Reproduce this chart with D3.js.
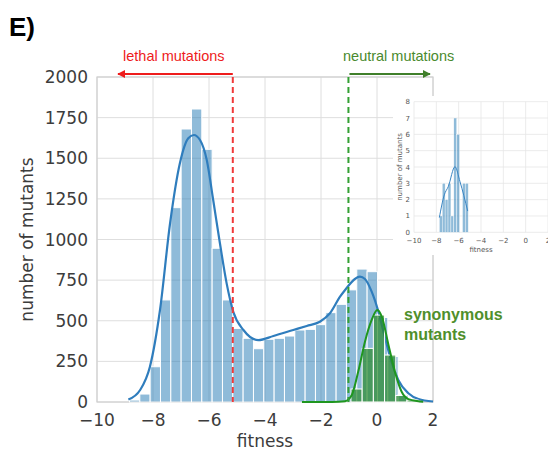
<!DOCTYPE html>
<html>
<head>
<meta charset="utf-8">
<script src="https://cdn.jsdelivr.net/npm/d3@7"></script>
<style>
  html, body { margin: 0; padding: 0; background: #fff; }
  svg { display: block; }
</style>
</head>
<body>
<svg id="chart" width="548" height="450"></svg>
<script>
// ---- data -------------------------------------------------------------
// all mutants: histogram of fitness (equal-width bins)
const blueBinStart = -8.84;
const blueBinWidth = 0.369;
const blueCounts = [12, 49, 217, 628, 1196, 1680, 1803, 1555, 946, 628,
                    453, 392, 328, 386, 392, 406, 443, 447, 476, 550,
                    601, 690, 818, 802, 520, 280, 45, 15];
// density estimate of all mutants (scaled to counts)
const blueKdeX = [-8.88, -8.46, -8.11, -7.75, -7.39, -7.04, -6.74, -6.54, -6.32, -6.08,
                  -5.85, -5.61, -5.37, -5.13, -4.77, -4.24, -3.70, -2.99, -2.51, -2.04,
                  -1.68, -1.32, -1.14, -0.79, -0.61, -0.43, -0.19, 0.05, 0.29, 0.52,
                  0.76, 1.12, 1.48, 2.0];
const blueKdeY = [15, 74, 217, 566, 1100, 1469, 1623, 1643, 1612, 1489,
                  1243, 977, 730, 554, 443, 381, 406, 443, 468, 494,
                  546, 648, 689, 757, 771, 757, 679, 556, 392, 248,
                  135, 54, 18, 3];

// synonymous mutants
const greenBinStart = -0.93;
const greenBinWidth = 0.40;
const greenCounts = [80, 330, 535, 289, 40, 12];
const greenKdeX = [-2.68, -1.6, -1.14, -0.90, -0.67, -0.43, -0.19, 0.01, 0.17, 0.41, 0.64, 0.88, 1.12, 1.48, 1.65];
const greenKdeY = [0, 0, 5, 43, 187, 371, 505, 566, 525, 351, 187, 63, 18, 5, 2];

// thresholds
const lethalCut = -5.15;
const neutralCut = -1.02;

// axis ticks
const xTicks = [-10, -8, -6, -4, -2, 0, 2];
const yTicks = [0, 250, 500, 750, 1000, 1250, 1500, 1750, 2000];

// inset: fitness histogram of a small subset
const insetBinStart = -7.73;
const insetBinWidth = 0.259;
const insetCounts = [1, 3, 2, 3, 1, 7, 6, 0, 3, 3];
const insetKdeX = [-7.73, -7.29, -6.93, -6.33, -5.88, -5.19];
const insetKdeY = [0.9, 2.29, 2.8, 4.02, 3.1, 1.3];
const insetXTicks = [-10, -8, -6, -4, -2, 0, 2];
const insetYTicks = [0, 1, 2, 3, 4, 5, 6, 7, 8];

// ---- drawing ----------------------------------------------------------
const svg = d3.select("#chart");
const font = "'DejaVu Sans', sans-serif";
const textCol = "#3c3c3c";
const gridCol = "#dedede";

const L = 97, R = 433, T = 77, B = 402;
const x = d3.scaleLinear().domain([-10, 2]).range([L, R]);
const y = d3.scaleLinear().domain([0, 2000]).range([B, T]);

// grid
const g = svg.append("g");
g.selectAll("line.gx").data(xTicks).join("line")
  .attr("x1", d => x(d)).attr("x2", d => x(d)).attr("y1", T).attr("y2", B)
  .attr("stroke", gridCol).attr("stroke-width", 1);
g.selectAll("line.gy").data(yTicks).join("line")
  .attr("y1", d => y(d)).attr("y2", d => y(d)).attr("x1", L).attr("x2", R)
  .attr("stroke", gridCol).attr("stroke-width", 1);

// frame
svg.append("rect").attr("x", L).attr("y", T).attr("width", R - L).attr("height", B - T)
  .attr("fill", "none").attr("stroke", "#d0d0d0").attr("stroke-width", 1.2);

// blue histogram
svg.append("g").selectAll("rect").data(blueCounts).join("rect")
  .attr("x", (d, i) => x(blueBinStart + i * blueBinWidth))
  .attr("width", (d, i) => x(blueBinStart + (i + 1) * blueBinWidth) - x(blueBinStart + i * blueBinWidth))
  .attr("y", d => y(d)).attr("height", d => y(0) - y(d))
  .attr("fill", "#1f77b4").attr("fill-opacity", 0.5)
  .attr("stroke", "#fff").attr("stroke-width", 1);

// blue density
const line = d3.line().x(d => x(d[0])).y(d => y(d[1])).curve(d3.curveMonotoneX);
svg.append("path").datum(blueKdeX.map((v, i) => [v, blueKdeY[i]]))
  .attr("d", line).attr("fill", "none").attr("stroke", "#2f7dbd").attr("stroke-width", 2.2);

// green histogram
svg.append("g").selectAll("rect").data(greenCounts).join("rect")
  .attr("x", (d, i) => x(greenBinStart + i * greenBinWidth))
  .attr("width", (d, i) => x(greenBinStart + (i + 1) * greenBinWidth) - x(greenBinStart + i * greenBinWidth))
  .attr("y", d => y(d)).attr("height", d => y(0) - y(d))
  .attr("fill", "#2a8a2a").attr("fill-opacity", 0.7)
  .attr("stroke", "#fff").attr("stroke-width", 1);

// green density
svg.append("path").datum(greenKdeX.map((v, i) => [v, greenKdeY[i]]))
  .attr("d", line).attr("fill", "none").attr("stroke", "#1f961f").attr("stroke-width", 2);

// threshold lines
svg.append("line").attr("x1", x(lethalCut)).attr("x2", x(lethalCut)).attr("y1", T).attr("y2", B)
  .attr("stroke", "#f03a3a").attr("stroke-width", 2).attr("stroke-dasharray", "6,4");
svg.append("line").attr("x1", x(neutralCut)).attr("x2", x(neutralCut)).attr("y1", T).attr("y2", B)
  .attr("stroke", "#33a033").attr("stroke-width", 2).attr("stroke-dasharray", "6,4");

// tick labels
svg.append("g").selectAll("text").data(xTicks).join("text")
  .attr("x", d => x(d)).attr("y", 425.5).attr("text-anchor", "middle")
  .attr("font-family", font).attr("font-size", 17).attr("fill", textCol)
  .text(d => d < 0 ? "\u2212" + Math.abs(d) : d);
svg.append("g").selectAll("text").data(yTicks).join("text")
  .attr("x", 88).attr("y", d => y(d)).attr("dy", "0.36em").attr("text-anchor", "end")
  .attr("font-family", font).attr("font-size", 17).attr("fill", textCol)
  .text(d => d);

// axis labels
svg.append("text").attr("x", (L + R) / 2).attr("y", 447).attr("text-anchor", "middle")
  .attr("font-family", font).attr("font-size", 17).attr("fill", textCol).text("fitness");
svg.append("text").attr("transform", `translate(33,${(T + B) / 2}) rotate(-90)`)
  .attr("text-anchor", "middle")
  .attr("font-family", font).attr("font-size", 17).attr("fill", textCol).text("number of mutants");

// panel letter
svg.append("text").attr("x", 9).attr("y", 36)
  .attr("font-family", "'Liberation Sans', Arial, sans-serif").attr("font-weight", "bold")
  .attr("font-size", 26).attr("fill", "#000").text("E)");

// annotations with arrows
const defs = svg.append("defs");
function marker(id, col) {
  defs.append("marker").attr("id", id).attr("viewBox", "0 0 10 10")
    .attr("refX", 9).attr("refY", 5).attr("markerWidth", 4).attr("markerHeight", 4)
    .attr("orient", "auto-start-reverse")
    .append("path").attr("d", "M0,0 L10,5 L0,10 z").attr("fill", col);
}
marker("arrRed", "#ee1c1c");
marker("arrGreen", "#3f7f2a");

svg.append("line").attr("x1", x(lethalCut)).attr("x2", 118).attr("y1", 74).attr("y2", 74)
  .attr("stroke", "#ee1c1c").attr("stroke-width", 2).attr("marker-end", "url(#arrRed)");
svg.append("line").attr("x1", x(neutralCut) + 1).attr("x2", 430).attr("y1", 74).attr("y2", 74)
  .attr("stroke", "#3f7f2a").attr("stroke-width", 2).attr("marker-end", "url(#arrGreen)");

const sans = "'Liberation Sans', Arial, sans-serif";
svg.append("text").attr("x", 123).attr("y", 61)
  .attr("font-family", sans).attr("font-size", 14.5).attr("fill", "#ee1c1c").text("lethal mutations");
svg.append("text").attr("x", 343).attr("y", 61)
  .attr("font-family", sans).attr("font-size", 14.5).attr("fill", "#4a8a2e").text("neutral mutations");

svg.append("text").attr("x", 404).attr("y", 320)
  .attr("font-family", sans).attr("font-weight", "bold").attr("font-size", 16)
  .attr("fill", "#4f8f2b").text("synonymous");
svg.append("text").attr("x", 404).attr("y", 340)
  .attr("font-family", sans).attr("font-weight", "bold").attr("font-size", 16)
  .attr("fill", "#4f8f2b").text("mutants");

// ---- inset -------------------------------------------------------------
const ins = svg.append("g");
ins.append("rect").attr("x", 393).attr("y", 96).attr("width", 155).attr("height", 159).attr("fill", "#fff");

const iL = 414, iR = 548, iT = 101.7, iB = 232.3;
const ix = d3.scaleLinear().domain([-10, 2]).range([iL, iR]);
const iy = d3.scaleLinear().domain([0, 8]).range([iB, iT]);
const iGrid = "#e6e6e6";

ins.selectAll("line.ix").data(insetXTicks).join("line")
  .attr("x1", d => ix(d)).attr("x2", d => ix(d)).attr("y1", iT).attr("y2", iB)
  .attr("stroke", iGrid).attr("stroke-width", 0.8);
ins.selectAll("line.iy").data(insetYTicks).join("line")
  .attr("y1", d => iy(d)).attr("y2", d => iy(d)).attr("x1", iL).attr("x2", iR)
  .attr("stroke", iGrid).attr("stroke-width", 0.8);

ins.append("g").selectAll("rect").data(insetCounts).join("rect")
  .attr("x", (d, i) => ix(insetBinStart + i * insetBinWidth))
  .attr("width", (d, i) => ix(insetBinStart + (i + 1) * insetBinWidth) - ix(insetBinStart + i * insetBinWidth))
  .attr("y", d => iy(d)).attr("height", d => iy(0) - iy(d))
  .attr("fill", "#1f77b4").attr("fill-opacity", 0.5)
  .attr("stroke", "#fff").attr("stroke-width", 0.4);

const iline = d3.line().x(d => ix(d[0])).y(d => iy(d[1])).curve(d3.curveMonotoneX);
ins.append("path").datum(insetKdeX.map((v, i) => [v, insetKdeY[i]]))
  .attr("d", iline).attr("fill", "none").attr("stroke", "#3a86c4").attr("stroke-width", 1);

const iText = "#555";
ins.append("g").selectAll("text").data(insetXTicks).join("text")
  .attr("x", d => ix(d)).attr("y", 242.5).attr("text-anchor", "middle")
  .attr("font-family", font).attr("font-size", 7).attr("fill", iText)
  .text(d => d < 0 ? "\u2212" + Math.abs(d) : d);
ins.append("g").selectAll("text").data(insetYTicks).join("text")
  .attr("x", 410).attr("y", d => iy(d)).attr("dy", "0.36em").attr("text-anchor", "end")
  .attr("font-family", font).attr("font-size", 7).attr("fill", iText)
  .text(d => d);
ins.append("text").attr("x", (iL + 481) / 2 + 33.5).attr("y", 252).attr("text-anchor", "middle")
  .attr("font-family", font).attr("font-size", 7).attr("fill", iText).text("fitness");
ins.append("text").attr("transform", `translate(402,${(iT + iB) / 2}) rotate(-90)`)
  .attr("text-anchor", "middle")
  .attr("font-family", font).attr("font-size", 7).attr("fill", iText).text("number of mutants");
</script>
</body>
</html>
